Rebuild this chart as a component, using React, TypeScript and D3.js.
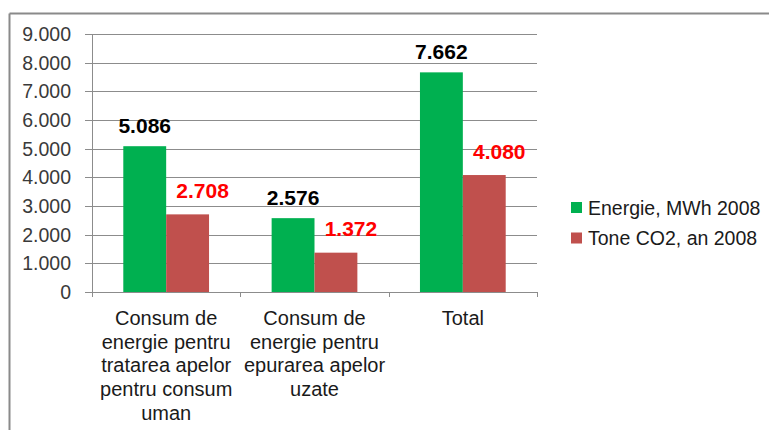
import React from "react";
import * as d3 from "d3";

const categories: string[][] = [
  ["Consum de", "energie pentru", "tratarea apelor", "pentru consum", "uman"],
  ["Consum de", "energie pentru", "epurarea apelor", "uzate"],
  ["Total"],
];
const energie: number[] = [5086, 2576, 7662];
const tone: number[] = [2708, 1372, 4080];
const seriesNames: string[] = ["Energie, MWh 2008", "Tone CO2, an 2008"];
const yTicks: number[] = [0, 1000, 2000, 3000, 4000, 5000, 6000, 7000, 8000, 9000];

const fmt = (v: number) => d3.format(",")(v).replace(/,/g, ".");

export default function App() {
  const W = 769, H = 430;
  const left = 92, right = 537, top = 34, bottom = 292;
  const FONT = "'Liberation Sans', Arial, sans-serif";
  const colors = ["#00B050", "#C0504D"];
  const idx = categories.map((_, i) => String(i));
  const x = d3.scaleBand<string>().domain(idx).range([left, right]).paddingInner(0).paddingOuter(0);
  const inner = d3.scaleBand<string>().domain(["0", "1"]).range([0, x.bandwidth()]).paddingOuter(0.73).paddingInner(0);
  const y = d3.scaleLinear().domain([0, 9000]).range([bottom, top]);
  const grid = "#8C8C8C";
  const series = [energie, tone];
  return (
    <svg width={W} height={H} style={{ position: "absolute", left: 0, top: 0, background: "#fff" }}>
      <rect x={0} y={0} width={W} height={H} fill="#fff" />
      <line x1={9.5} y1={13.5} x2={769} y2={13.5} stroke="#8a8a8a" strokeWidth={2} />
      <line x1={9.5} y1={13.5} x2={9.5} y2={430} stroke="#8a8a8a" strokeWidth={2} />
      {yTicks.map((t) => (
        <g key={t}>
          <line x1={left - 7} x2={right} y1={Math.round(y(t)) + 0.5} y2={Math.round(y(t)) + 0.5} stroke={grid} strokeWidth={1} />
          <text x={71} y={y(t)} textAnchor="end" dominantBaseline="central" fontFamily={FONT} fontSize={19.5} fill="#3a3a3a">
            {fmt(t)}
          </text>
        </g>
      ))}
      <line x1={left + 0.5} x2={left + 0.5} y1={top} y2={bottom + 5} stroke={grid} />
      {[...idx.map((d) => x(d)!), right].map((xv, i) => (
        <line key={i} x1={Math.round(xv) + 0.5} x2={Math.round(xv) + 0.5} y1={bottom} y2={bottom + 5} stroke={grid} />
      ))}
      {series.map((vals, s) =>
        vals.map((v, i) => {
          const bx = x(String(i))! + inner(String(s))!;
          return (
            <rect key={`${s}-${i}`} x={bx} y={y(v)} width={inner.bandwidth()} height={bottom - y(v)} fill={colors[s]} />
          );
        })
      )}
      {series.map((vals, s) =>
        vals.map((v, i) => {
          const cx = x(String(i))! + inner(String(s))! + inner.bandwidth() / 2;
          const half = 28;
          const lx = s === 0 ? cx : Math.min(cx + 15, right - half);
          return (
            <text key={`l${s}-${i}`} x={lx} y={y(v) - (s === 0 ? 21 : 24)} textAnchor="middle" dominantBaseline="central"
              fontFamily={FONT} fontSize={21} fontWeight="bold" fill={s === 0 ? "#000" : "#FF0000"}>
              {fmt(v)}
            </text>
          );
        })
      )}
      {categories.map((lines, i) => (
        <text key={`c${i}`} textAnchor="middle" fontFamily={FONT} fontSize={20} fill="#1a1a1a">
          {lines.map((ln, j) => (
            <tspan key={j} x={x(String(i))! + x.bandwidth() / 2} y={318 + j * 23.7} dominantBaseline="central">
              {ln}
            </tspan>
          ))}
        </text>
      ))}
      {seriesNames.map((n, s) => (
        <g key={n}>
          <rect x={571} y={202 + s * 30.5} width={11} height={11} fill={colors[s]} />
          <text x={588} y={207.5 + s * 30} dominantBaseline="central" fontFamily={FONT} fontSize={19.5} fill="#1a1a1a">
            {n}
          </text>
        </g>
      ))}
    </svg>
  );
}
